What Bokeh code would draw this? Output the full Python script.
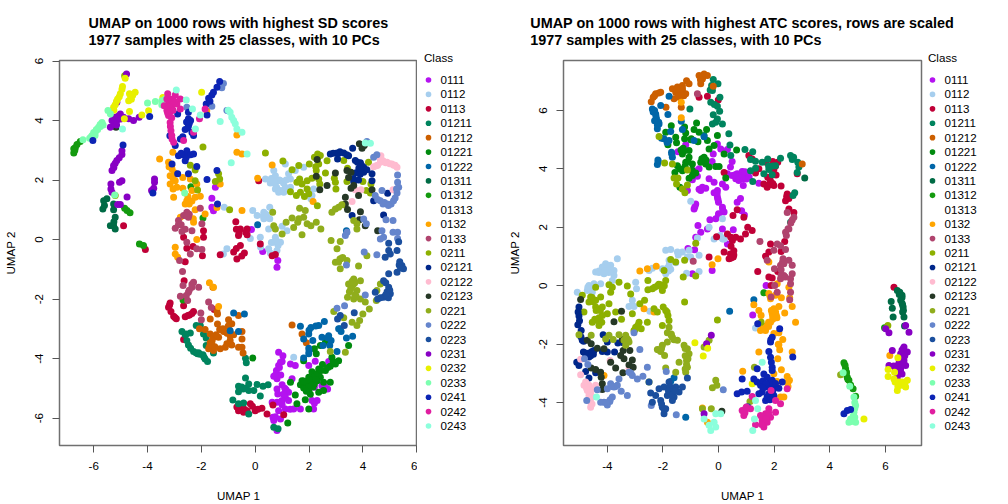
from bokeh.plotting import figure
from bokeh.layouts import row
from bokeh.embed import file_html
from bokeh.resources import INLINE
from bokeh.core.properties import value
from bokeh.models import Range1d, FixedTicker

classes = ["0111","0112","0113","01211","01212","01221","01222","01311","01312","01313","0132","0133",
           "0211","02121","02122","02123","0221","0222","0223","0231","0232","0233","0241","0242","0243"]
colors = ["#B412F0","#A6CEEE","#C00037","#00845E","#CC5F00","#008A0E","#0066A8","#006B45","#149A0F","#FFFFFF",
          "#FFA500","#B0446E","#8DB000","#00278A","#FFBBD0","#263826","#90AD1C","#6585CC","#1B4F9E","#8800C4",
          "#E8F000","#7CFFB0","#0C24B4","#E01EA0","#8CFFDC"]

# ---- UMAP on SD scores ----
sd_0111 = [(-1.55,.97),(-1.61,1.39),(-1.48,1.76),(-1.61,1.09),(-.14,.34),(.28,-.4),(.84,-.7),(.81,-.93),(.87,-3.79),(1.03,-3.9),(.94,-4.12),(.79,-4.4),(.87,-4.23),(.69,-4.59),(.81,-4.68),(1.31,-4.18),(1.49,-4.23),(1.99,-4.23),(2.23,-4.09),(2.73,-4.1),(1.37,-4.68),(1.0,-4.88),(.81,-5.02),(.84,-5.19),(1.24,-5.13),(1.12,-5.3),(1.0,-5.41),(.81,-5.47),(.63,-5.47),(1.24,-5.41),(1.12,-5.69),(.87,-5.75),(1.43,-5.69),(1.68,-5.69),(.66,-5.97),(.69,-6.08),(.94,-6.03),(.81,-6.42),(2.11,-5.41),(2.3,-5.41),(2.17,-5.69),(2.2,-4.96),(2.48,-4.91),(2.69,-5.02),(2.15,-4.63),(.95,-4.55),(1.1,-5.0),(1.0,-5.55),(.9,-4.3),(1.0,-4.1),(.75,-4.55),(1.15,-5.05),(1.05,-5.2),(.95,-5.45),(.75,-5.95),(1.3,-5.7),(2.2,-5.5),(2.6,-4.95)]
sd_0112 = [(.38,2.04),(.69,2.32),(.75,2.15),(.56,1.9),(.75,1.87),(.94,1.98),(.75,1.7),(.87,1.59),(1.06,1.59),(1.12,1.76),(1.31,2.04),(1.24,2.21),(1.49,2.32),(1.8,2.43),(1.12,2.54),(1.31,1.76),(2.11,1.48),(2.17,1.7),(2.07,1.37),(.54,1.09),(-.09,.98),(.07,.81),(.32,.92),(.32,.7),(.54,.7),(.5,.36),(1.0,.45),(1.18,.3),(.75,.08),(.94,-.09),(.69,-.09),(-.18,.04),(.19,.08),(-1.15,1.09),(.5,-.31),(.81,-.37),(.56,-.45),(1.43,-3.95),(-1.18,-.48),(-1.05,-.31),(.9,2.0),(1.05,1.9),(.85,-.2),(.2,-.25),(.6,2.05),(.7,1.95),(.8,1.75),(.95,1.65),(1.15,2.0),(.3,.8),(.45,.75),(.4,.85),(.8,-.05),(.6,-.1)]
sd_0113 = [(-4.08,-.33),(-2.54,-.29),(-2.31,-.23),(-1.96,-.54),(-2.6,-.74),(-2.64,-1.38),(-2.66,-2.22),(-3.16,-2.13),(-3.22,-2.27),(-3.13,-2.42),(-3.03,-2.58),(-2.93,-2.66),(-2.6,-2.59),(-2.44,-2.53),(-2.29,-2.42),(-2.66,-3.36),(-1.52,-2.35),(-1.3,-.51),(-.8,-.42),(-.68,-.65),(-.68,-5.63),(-.62,-5.75),(-4.89,.47),(-2.66,.08),(-1.92,.3),(-1.92,.08),(-.72,.6),(-.62,.14),(-.49,-5.58),(-.43,-5.8),(-.18,-5.52),(0,-5.75),(.25,-5.67),(.44,-5.86),(1.06,-5.89),(.66,-5.56),(-.55,.36),(-.3,.36),(-.3,.16),(.13,1.98),(.19,-.15),(.63,-.54),(.75,-.5),(-.55,-.2),(-.4,-.45),(-.7,-.3),(-.5,-.55),(-.1,-5.6),(.1,-5.7),(-.3,-5.75),(-.6,.2),(-.7,.35),(-.35,.25),(-3.18,-2.2),(-2.98,-2.62),(-2.5,-2.55),(-2.35,-2.48),(-.6,-5.65),(-.4,-5.7)]
sd_01211 = [(-2.19,-2.89),(-2.04,-2.89),(-2.72,-3.09),(-2.56,-3.17),(-2.41,-3.14),(-1.92,-3.17),(-1.82,-3.31),(-2.54,-3.39),(-2.48,-3.54),(-2.29,-3.76),(-2.14,-3.84),(-1.94,-3.87),(-1.86,-4.01),(-1.77,-4.1),(-1.82,-3.56),(-1.55,-3.81),(-.62,-4.93),(-.62,-5.11),(-.83,-5.39),(-.62,-5.52),(-.36,-3.99),(-.33,-4.14),(-.36,-4.65),(-.24,-4.85),(-.45,-5.02),(-.24,-5.07),(-.05,-5.07),(.07,-4.87),(.29,-4.93),(.48,-4.88),(.19,-5.26),(-.43,-5.49),(-.24,-5.86),(.69,-6.31),(.85,-6.36),(-.5,-4.95),(-.35,-5.0),(-2.1,-3.8),(-2.6,-3.2),(-2.2,-3.8),(-2.05,-3.85),(-1.9,-3.95),(-2.4,-3.65)]
sd_01212 = [(1.37,-2.87),(1.74,-3.17),(1.9,-3.47),(-.49,-3.09),(-.49,-3.34),(-.49,-3.62),(-.45,-3.81),(-.62,-2.55),(-1.42,-2.42),(-1.67,-2.67),(-1.4,-2.84),(-.99,-2.69),(-.87,-2.83),(-2.07,-3.0),(-1.86,-3.02),(-1.67,-3.17),(-1.32,-3.02),(-1.18,-3.09),(-.93,-3.23),(-1.36,-3.28),(-1.55,-3.28),(-.8,-3.2),(-.93,-3.39),(-.87,-3.54),(-1.11,-3.62),(-1.3,-3.67),(-1.55,-3.73),(-1.73,-3.67),(-1.67,-3.47),(-.62,-3.62),(-1.57,-1.6),(-1.05,-3.15),(-1.7,-3.6),(-1.6,-3.55),(-1.4,-2.5),(-1.6,-3.4),(-1.5,-3.6),(-1.2,-3.0),(-1.05,-3.5),(-.95,-3.05),(-1.0,-2.9),(-1.45,-3.2)]
sd_01221 = [(2.61,-3.45),(2.42,-3.56),(2.2,-3.67),(2.27,-3.84),(3.1,-4.07),(2.98,-4.18),(2.79,-4.26),(2.61,-4.4),(2.36,-4.35),(2.11,-4.44),(2.3,-4.51),(2.42,-4.63),(1.99,-4.63),(1.74,-4.74),(1.68,-4.88),(1.93,-4.85),(2.11,-4.79),(2.3,-4.74),(2.54,-4.79),(2.79,-4.79),(1.99,-5.07),(1.8,-4.99),(2.36,-5.13),(2.54,-5.07),(1.49,-5.22),(1.86,-5.38),(1.55,-5.52),(1.99,-5.69),(1.21,-6.16),(1.8,-4.07),(1.31,-4.79),(-.09,-3.98),(3.47,-3.56),(2.85,-3.95),(2.2,-4.6),(2.05,-5.2),(1.85,-4.8),(2.5,-4.2),(2.15,-4.95),(2.0,-4.7),(2.2,-4.85),(2.35,-4.55),(2.45,-4.4),(2.7,-4.3),(2.9,-4.1),(2.0,-4.95),(1.8,-4.75),(2.25,-4.7),(1.9,-5.1)]
sd_01222 = [(2.57,-2.75),(2.36,-2.89),(2.07,-2.95),(1.99,-3.17),(1.8,-3.34),(2.14,-3.39),(2.48,-3.28),(2.73,-3.23),(2.82,-3.39),(2.77,-3.56),(3.1,-3.0),(3.19,-3.09),(3.39,-3.31),(3.62,-3.25),(1.68,-2.91),(1.99,-3.65),(1.99,-3.84),(1.8,-3.98),(2.52,-3.56),(3.04,-3.76),(3.39,.3),(.09,.5),(-.8,-2.47),(-.93,-3.06),(-.62,-3.09),(-.4,-2.5),(2.25,-2.9),(2.0,-3.05),(3.15,-3.0),(2.7,-3.3),(2.0,-3.75)]
sd_01311 = [(-5.63,1.31),(-5.66,1.03),(-5.26,1.2),(-5.26,1.0),(-5.2,.75),(-5.26,.47),(-5.2,.36),(-5.38,.47),(-5.51,1.37),(-5.6,1.15),(-5.25,.6)]
sd_01312 = [(-6.62,3.2),(-6.74,3.05),(-6.74,2.91),(-4.76,.98),(-4.3,-.15),(-2.39,1.78),(-1.94,.73),(-2.68,-2.03),(-6.5,3.3),(-4.85,1.05),(-4.65,.9),(-4.15,-.2),(-6.68,3.1),(-6.7,3.0)]
sd_01313 = []
sd_0132 = [(-3.55,2.71),(-3.06,2.94),(-3.22,2.6),(-3.09,2.37),(-3.16,2.15),(-2.97,1.98),(-3.16,1.87),(-2.91,1.76),(-2.69,2.09),(-2.41,2.04),(-2.17,1.87),(-2.35,1.65),(-2.69,1.73),(-3.03,1.42),(-2.54,1.31),(-2.23,1.42),(-2.04,1.46),(-1.86,.86),(-1.3,1.87),(-2.23,1.0),(-2.29,.58),(-2.78,.75),(-2.17,0),(-.68,3.52),(-.68,2.94),(.63,2.51),(-.49,2.88),(.09,2.06),(2.15,1.28),(-.49,.98),(-1.8,4.33),(-1.42,1.08),(-2.97,-.26),(-2.97,-.48),(-2.88,-.59),(-1.7,-1.45),(-1.36,-2.25),(-1.55,-1.6),(-3.1,2.5),(-3.0,2.25),(-2.6,1.2),(-2.3,.7),(-3.2,2.45),(-3.05,2.05),(-3.05,1.7),(-2.5,1.45),(-2.45,1.2),(-2.35,1.3)]
sd_0133 = [(-2.04,1.05),(-1.98,.53),(-2.54,.92),(-2.66,.81),(-2.85,.64),(-2.48,.75),(-2.97,.38),(-2.72,.27),(-2.35,.3),(-2.54,-.09),(-2.17,-.31),(-1.98,-.33),(-2.41,-.48),(-2.81,-.7),(-2.7,-1.07),(-2.29,-1.43),(-2.35,-1.6),(-2.68,-1.54),(-2.1,-1.6),(-2.48,-1.77),(-2.56,-1.88),(-2.78,-1.9),(-2.51,-2.05),(-1.73,-2.1),(-1.63,-2.28),(-2.02,-2.47),(-2.0,-2.69),(-2.85,.5),(-2.45,.85),(-2.55,.8),(-2.75,.5),(-2.6,.35),(-2.35,-1.5),(-2.45,-1.7)]
sd_0211 = [(-1.36,2.21),(-1.32,2.04),(-1.48,1.95),(-2.23,2.34),(-2.41,2.5),(-1.94,3.11),(-2.14,1.67),(-2.23,1.98),(-.95,1.0),(-5.2,1.48),(.38,2.91),(1.03,2.64),(2.32,2.88),(2.42,2.83),(2.36,2.54),(2.27,2.32),(2.67,2.65),(2.2,2.77),(2.01,2.54),(1.62,2.49),(1.37,2.35),(2.61,2.24),(2.36,2.04),(2.11,2.06),(1.93,1.98),(1.65,2.04),(1.74,1.87),(1.55,1.93),(2.4,1.87),(2.94,2.06),(2.98,1.93),(3.0,1.7),(3.43,2.4),(3.41,1.95),(4.0,1.95),(4.3,1.87),(4.21,2.6),(4.13,1.65),(4.28,1.57),(1.93,1.7),(1.99,1.54),(1.68,1.59),(1.53,1.48),(1.83,1.45),(1.31,1.61),(3.29,2.66),(2.31,1.14),(3.29,1.17),(-4.85,5.51),(2.3,2.7),(2.25,2.45)]
sd_02121 = [(2.79,2.88),(3.04,2.91),(3.29,2.91),(3.47,2.82),(3.62,3.07),(3.72,2.66),(3.91,2.58),(4.03,2.43),(4.03,2.26),(3.84,2.0),(3.66,1.95),(4.34,2.21),(4.34,1.98),(3.06,2.71),(4.4,1.31),(4.92,1.56),(4.77,.83),(3.6,.81),(2.9,2.9),(3.15,2.95),(3.85,2.4),(3.75,2.25),(3.9,2.2),(4.15,2.35),(3.1,2.9),(3.4,2.85),(3.8,2.6),(3.95,2.5),(3.95,2.3),(3.9,2.4),(3.65,2.05)]
sd_02122 = [(4.67,2.82),(4.65,2.6),(4.4,2.45),(4.9,2.6),(5.08,2.54),(5.27,2.43),(3.93,1.68),(3.72,1.68),(5.12,1.68),(3.6,1.28),(4.55,2.5),(4.75,2.65),(5.2,2.5),(4.65,2.7),(4.65,2.75),(4.5,2.48),(4.85,2.58),(5.0,2.55),(5.15,2.5)]
sd_02123 = [(3.87,3.22),(4.05,3.16),(3.97,3.07),(2.3,2.69),(2.27,2.13),(2.67,1.82),(2.98,2.24),(2.4,1.68),(3.41,2.32),(3.56,2.26),(3.47,2.09),(3.66,1.82),(3.56,1.73),(4.34,1.68),(3.84,1.48),(3.35,1.42),(3.35,1.2),(3.43,1.01),(3.91,.94),(3.87,.67),(4.09,.47),(4.55,.3),(-5.17,3.78)]
sd_0221 = [(.65,.92),(1.65,1.05),(1.86,.98),(1.62,.7),(1.37,.73),(1.15,.58),(.69,.47),(.75,.36),(1.43,.41),(1.58,.58),(1.8,.75),(1.93,.53),(2.07,.47),(2.27,.58),(2.44,.36),(1.74,.16),(1,.19),(2.82,-.03),(3.16,-.06),(2.85,.92),(2.98,1.03),(3.1,1.09),(3.22,1.17),(3.66,.64),(3.78,.53),(3.78,.36),(3.04,-.31),(3.16,-.65),(2.98,-.76),(3.41,-.7),(3.16,-.98),(3.84,-.89),(4.15,-.54),(3.66,-1.32),(3.6,-1.54),(3.47,-1.49),(3.91,-1.38),(3.78,-1.71),(3.66,-2.0),(3.43,-1.94),(3.91,-2.0),(4.09,-2.1),(4.24,-2.33),(4.5,-2.05),(4.52,-1.71),(4.65,-1.49),(4.0,-2.5),(3.88,-2.72),(3.78,-2.89),(3.6,-2.78),(3.29,-2.63),(2.92,-2.42),(2.79,-3.76),(3.35,-3.79),(3.7,-1.45),(3.5,-1.75),(3.75,-1.9),(3.1,-.75),(3.6,-1.4),(3.65,-1.5),(3.55,-1.65),(3.7,-1.85),(3.15,-.65),(3.25,-.6)]
sd_0222 = [(4.05,-.42),(3.39,-.85),(4.52,-.51),(4.09,-1.86),(3.32,-2.22),(3.04,-2.31),(4.03,.69),(4.13,.53),(3.41,.25),(3.35,.14),(4.71,.3),(4.77,.08),(4.65,.02),(5.12,.64),(4.86,.67),(5.12,.25),(5.29,.25),(5.29,.04),(4.4,2.77),(4.52,2.85),(5.29,2.17),(5.29,1.93),(5.33,1.76),(5.27,1.57),(5.14,1.31),(4.9,1.2),(4.65,1.31),(4.46,1.48),(4.71,1.65),(4.15,3.3),(-1.18,5.25),(-1.24,5.1),(-1.61,4.48),(-2.54,4.45),(-1.05,4.34),(4.8,1.25),(5.05,1.2),(4.55,1.35),(4.75,1.2),(4.95,1.15),(5.2,1.4),(5.25,1.7)]
sd_0223 = [(4.96,-.37),(5.02,-.48),(5.27,-.37),(4.83,-.59),(5.37,-.74),(5.45,-.87),(5.51,-.98),(5.27,-1.1),(4.96,-1.15),(4.77,-1.38),(4.96,-1.6),(5.02,-1.82),(4.77,-1.94),(4.55,-2.0),(4.46,-1.77),(3.16,-2.55),(3.06,-2.67),(3.68,-2.46),(3.31,-2.89),(4.96,-.12),(5.33,-.07),(4.9,-1.75),(4.95,-1.95),(5.0,-1.7),(4.85,-1.85),(4.65,-1.95),(5.35,-.85),(5.4,-.95),(4.85,-1.45)]
sd_0231 = [(-4.78,5.57),(-5.2,4.11),(-5.01,4.22),(-5.32,4.0),(-5.14,4.0),(-4.89,4.11),(-4.7,4.06),(-4.52,4.0),(-4.31,4.11),(-5.38,3.78),(-5.14,4.62),(-4.95,2.99),(-4.95,2.86),(-5.14,2.66),(-5.26,2.49),(-5.32,2.32),(-5.2,2.57),(-4.95,1.98),(-5.04,1.93),(-3.74,2.04),(-3.74,1.93),(-3.77,1.73),(-3.85,1.65),(-5.36,1.87),(-5.36,1.7),(-5.32,1.59),(-5.11,1.18),(-5.01,1.18),(-4.76,1.43),(-5.25,2.42),(-5.05,2.75),(-5.1,4.15),(-5.25,3.9),(-5.0,4.05),(-5.15,3.85)]
sd_0232 = [(-4.93,5.15),(-5.01,4.9),(-5.11,4.73),(-5.2,4.53),(-5.26,4.45),(-4.83,5.42),(-4.67,4.9),(-4.46,4.95),(-4.62,4.78),(-4.7,4.67),(-4.67,4.31),(-4.86,4.06),(-4.21,4.19),(-3.96,4.33),(-3.43,4.78),(-1.99,4.95),(-5.05,4.8),(-4.55,4.85),(-4.95,5.05),(-5.15,4.65),(-5.25,4.35),(-4.6,4.72)]
sd_0233 = [(-5.69,3.94),(-5.82,3.78),(-5.94,3.61),(-6.06,3.5),(-6.15,3.41),(-5.76,3.87),(-6.4,3.36),(-4.0,4.59),(-3.71,4.64),(-3.47,4.67),(-3.34,4.73),(-3.47,4.53),(-5.38,4.22),(-5.47,4.34),(-2.62,1.57),(-5.22,1.5),(-5.9,3.7),(-6.0,3.6),(-5.75,3.8),(-5.85,3.7),(-5.95,3.5),(-6.1,3.45),(-5.65,3.85)]
sd_0241 = [(-1.32,5.31),(-1.42,5.12),(-1.61,4.86),(-1.73,4.75),(-1.82,4.56),(-1.79,4.19),(-2.88,4.22),(-2.48,4.28),(-2.48,4.06),(-2.48,3.83),(-2.6,3.7),(-2.29,3.5),(-2.69,3.46),(-2.78,3.38),(-2.97,3.16),(-2.54,2.99),(-2.29,2.88),(-2.85,2.82),(-2.56,2.77),(-3.09,2.54),(-2.17,2.46),(-2.48,2.21),(-2.88,2.21),(-1.79,2.02),(-1.42,2.32),(-3.92,4.14),(-4.91,3.18),(-6.03,3.33),(-3.8,1.57),(-1.4,1.2),(-3.17,3.49),(-2.4,4.0),(-2.55,3.95),(-2.7,2.85),(-2.45,3.9),(-2.5,3.75),(-2.35,3.6),(-1.55,4.95),(-1.68,4.65),(-2.75,2.9),(-2.6,2.65),(-2.4,2.85)]
sd_0242 = [(-3.25,4.9),(-2.97,4.86),(-2.78,4.73),(-3.22,4.56),(-3.28,4.34),(-3.09,4.5),(-2.91,4.56),(-3.22,4.17),(-3.16,3.94),(-3.13,3.66),(-3.09,3.38),(-3.03,3.27),(-2.66,3.33),(-2.29,3.61),(-2.07,4.06),(-1.86,4.39),(-3.28,4.73),(-3.12,4.72),(-2.78,4.39),(-3.15,4.3),(-3.1,4.1),(-3.38,4.5),(-3.2,4.45),(-3.05,4.35),(-3.25,4.25),(-3.15,3.8),(-3.1,3.5),(-3.0,4.65)]
sd_0243 = [(-2.93,5.03),(-2.56,4.69),(-2.33,4.39),(-2.04,4.19),(-2.22,3.72),(-.93,4.28),(-.87,4.11),(-.74,3.89),(-.68,3.72),(-1.3,3.97),(-.89,2.58),(-4.93,3.72),(-.49,3.61),(-.3,2.88),(4.09,3.25),(4.28,3.24),(-1.0,4.35),(-.8,4.0)]

# ---- UMAP on ATC scores ----
atc_0111 = [(-1.18,4.83),(-1.46,4.59),(-.19,4.51),(.08,4.68),(.32,4.66),(-.04,4.85),(-.23,4.25),(.49,4.25),(.43,4.06),(-.7,4.0),(-.88,3.94),(-.76,3.75),(-.94,3.63),(-1.12,3.26),(-.34,3.66),(-.16,3.54),(.32,3.83),(.49,3.77),(.62,3.66),(.14,3.48),(.26,3.37),(-.58,3.37),(-.46,3.34),(-.64,3.26),(-.04,3.26),(-.16,3.18),(-.04,3.03),(0,2.86),(-.82,2.8),(-.88,2.63),(.14,2.69),(.2,2.52),(0,2.46),(-.1,2.29),(-.31,2.26),(-.74,2.06),(.14,1.94),(-.4,1.94),(-.64,1.83),(-.82,1.66),(.67,3.83),(.73,3.6),(.67,2.86),(.53,1.92),(.32,1.43),(.85,3.91),(1.03,3.77),(.91,3.66),(.89,3.43),(1.45,3.51),(.79,2.99),(.83,2.57),(.93,2.42),(-.86,1.23),(-1.1,1.27),(-.94,.41),(-.23,.52),(1.71,.01),(1.23,-1.0),(.95,3.8),(.8,3.75),(1.0,3.65),(.95,3.9),(1.1,3.72),(.7,3.75),(.6,3.8),(-.05,3.15),(-.02,2.95),(.15,2.6),(-.7,3.3),(-.85,2.7),(.0,2.4)]
atc_0112 = [(-3.64,.92),(-4.06,.75),(-3.88,.7),(-4.18,.64),(-4.0,.52),(-4.42,.47),(-3.76,.52),(-4.12,.41),(-3.76,.35),(-3.82,.18),(-4.24,.07),(-4.48,.07),(-4.66,.01),(-4.72,-.16),(-5.08,-.22),(-4.54,-.22),(-2.98,.12),(-2.95,-.1),(-3.1,-.5),(-3.1,-.67),(-3.22,-.71),(-3.04,-.71),(-2.47,-.87),(-1.9,1.21),(-1.72,1.24),(-1.48,1.15),(-1.3,1.15),(-1.06,1.21),(-1.12,.98),(-1.0,.98),(-.7,1.04),(-1.78,.87),(-1.54,.79),(-1.78,.7),(-2.5,.52),(-2.02,.58),(-1.9,.41),(-1.72,.56),(-1.15,.43),(-.7,.49),(-2.38,.6),(-1.0,2.89),(.05,1.72),(.2,1.6),(-.16,1.6),(-.76,1.63),(-.34,2.0),(.14,2.29),(1.33,-1.45),(-4.62,-.1),(-4.3,.5),(-3.9,.55),(-1.9,.55),(-4.1,.65),(-4.0,.65),(-3.95,.45),(-4.1,.5),(-4.3,.45),(-4.6,-.05),(-4.7,-.05),(-1.45,1.05),(-1.85,.6),(-1.8,.5),(.15,1.6),(.1,1.65)]
atc_0113 = [(-.7,6.45),(-.4,6.49),(-.01,6.36),(.2,3.88),(.67,2.6),(.52,2.4),(.32,1.77),(.44,1.66),(.62,1.66),(-.07,1.68),(1.09,4.46),(1.21,4.34),(1.71,4.23),(1.95,4.25),(2.13,4.23),(1.45,4.0),(1.33,3.86),(1.99,3.98),(2.07,3.79),(1.77,3.71),(1.87,3.57),(1.63,3.48),(1.75,3.37),(1.99,3.43),(2.25,3.41),(2.47,3.14),(2.53,2.99),(2.41,2.91),(2.83,3.83),(2.53,2.63),(2.71,2.51),(.91,2.34),(1.05,2.0),(1.21,1.89),(.97,1.77),(.79,1.6),(2.38,1.51),(1.87,1.43),(.2,1.15),(.43,1.09),(.38,.92),(.53,.98),(-.34,.98),(1.69,1.01),(1.81,1.15),(2.25,1.17),(1.41,.49),(1.81,.3),(1.93,.26),(2.13,.49),(1.89,.01),(6.31,-.05),(.55,1.2),(.45,1.35),(.5,1.55),(.55,1.05),(.45,.95),(1.8,3.45),(1.85,3.65),(2.05,4.1),(1.95,3.5),(2.45,3.05),(2.5,3.1)]
atc_01211 = [(-.19,7.06),(-.02,6.91),(-.22,6.68),(.05,6.45),(-.28,6.28),(-.04,6.14),(-1.03,6.05),(.04,5.97),(-.19,5.85),(-.04,5.71),(-.22,5.54),(.14,5.54),(.37,5.2),(-.52,5.14),(.41,4.82),(.44,4.46),(.95,4.66),(1.23,4.59),(1.15,4.32),(1.33,4.26),(1.57,4.23),(1.77,4.34),(2.23,4.36),(2.05,4.11),(1.81,3.98),(1.63,3.83),(1.33,4.02),(1.15,3.94),(1.23,3.57),(1.93,3.8),(2.59,4.46),(2.65,4.32),(2.85,4.23),(2.89,4.06),(2.83,3.88),(2.74,3.18),(2.68,3.09),(2.59,2.17),(-.3,6.7),(-.25,6.85),(-.15,6.2),(-.1,5.6),(1.8,4.1),(1.95,4.1),(2.7,4.4)]
atc_01212 = [(-.52,7.25),(-.7,7.2),(-.4,7.2),(-.58,7.08),(-.64,6.91),(-.19,6.83),(-1.15,7.02),(-1.06,6.91),(-1.3,6.85),(-1.48,6.8),(-1.66,6.74),(-1.54,6.62),(-1.3,6.68),(-1.18,6.57),(-1.42,6.45),(-1.6,6.4),(-2.08,6.62),(-2.26,6.57),(-2.35,6.45),(-2.42,6.3),(-1.89,6.11),(-1.34,6.11),(3.01,4.17),(-1.4,6.6),(-1.25,6.5),(-1.3,6.75),(-1.5,6.7),(-1.35,6.55),(-.55,7.15),(-.65,7.05),(-1.45,6.5),(-2.15,6.6),(-2.3,6.5)]
atc_01221 = [(-.79,5.57),(-1.7,5.48),(-1.22,5.43),(-.88,5.35),(-.7,5.25),(-.43,5.35),(-1.18,5.23),(-1.9,5.25),(-1.54,5.08),(-1.22,5.03),(-.98,5.03),(-.4,4.97),(-.74,4.93),(-.04,5.14),(-1.82,4.83),(-1.51,4.89),(-1.27,4.71),(-1.06,4.63),(-1.3,4.51),(-.34,4.68),(-.16,4.8),(.2,4.51),(.65,4.65),(-1.06,4.4),(-.52,4.4),(-1.48,4.11),(-1.18,4.23),(-.94,4.17),(-.64,4.23),(-.46,4.17),(-.34,4.06),(-.1,4.08),(.02,4.08),(-1.57,3.88),(-1.3,3.94),(-.82,3.86),(-.94,3.77),(-1.06,3.68),(.26,3.69),(-1.39,3.37),(-1.35,4.65),(-1.2,4.1),(-.5,4.3),(-1.25,4.6),(-1.1,4.25),(-.6,4.35),(-1.4,4.0),(-.45,4.3),(-.95,3.95),(-1.0,5.0)]
atc_01222 = [(-1.78,6.49),(-2.08,6.17),(-2.38,6.05),(-2.26,5.88),(-2.23,5.71),(-2.14,5.54),(-2.2,5.37),(-1.82,5.86),(-1.34,5.63),(-1.72,5.28),(-1.3,5.35),(-1.96,5.03),(-1.78,4.97),(-1.69,4.57),(-1.66,4.4),(-2.17,4.25),(-.52,5.1),(-.88,4.97),(.4,-.87),(-1.18,-4.5),(-1.6,-3.15),(1.27,-.48),(-1.72,-3.28),(-2.3,6.0),(-2.15,5.6),(-2.2,4.15),(-2.35,5.95),(-2.25,5.8),(-2.3,5.65),(-2.2,5.5),(-2.05,5.05),(-1.85,4.9),(-1.68,4.5),(-2.18,4.3)]
atc_01311 = [(3.1,3.69),(6.52,-.22),(6.43,-.16),(6.6,-.33),(6.55,-.5),(6.64,-.73),(6.67,-1.07),(6.21,-.54),(6.25,-.77),(6.28,-1.07),(6.69,-1.38),(6.6,-.6),(6.62,-.9),(6.6,-.4),(6.62,-.65),(6.65,-.85),(6.5,-.3)]
atc_01312 = [(4.51,-2.64),(4.57,-2.84),(4.63,-3.13),(4.69,-3.24),(4.84,-3.53),(4.93,-3.78),(1.63,-.24),(5.97,-1.44),(4.6,-3.0),(4.55,-2.72),(4.65,-3.2),(4.75,-3.4),(4.6,-2.95)]
atc_01313 = []
atc_0132 = [(-1.34,6.28),(-1.34,5.75),(-2.83,.5),(-2.24,.67),(-2.56,.58),(-2.68,-.79),(-2.32,-.9),(-.02,.92),(-.23,.72),(-.58,-4.19),(-.4,-4.67),(-4.12,-3.07),(1.81,.81),(2.11,.07),(2.53,-.05),(1.81,-.27),(1.87,-.45),(2.05,-.33),(2.26,-.41),(2.56,-.41),(1.27,-.65),(2.65,-.71),(2.17,-.71),(1.45,-.85),(1.53,-1.02),(1.99,-.79),(1.93,-.96),(2.08,-1.02),(2.38,-.93),(1.87,-1.25),(1.75,-1.36),(1.51,-1.53),(1.69,-1.53),(1.99,-1.64),(2.17,-1.61),(2.77,-1.25),(2.31,-1.84),(2.17,-2.02),(2.2,-2.19),(1.45,-2.27),(2.65,-2.27),(2.13,-2.5),(2.26,-2.88),(1.99,-3.01),(2.47,-3.11),(2.55,-3.24),(2.5,-3.45),(2.11,-3.28),(2.23,-3.81),(2.35,-3.81),(.87,-2.93),(6.16,-2.39),(1.95,-1.15),(1.8,-1.4),(1.9,-.85),(1.95,-1.05),(1.8,-1.25),(1.65,-1.4),(1.6,-1.45),(2.05,-.9),(2.1,-1.1),(2.15,-2.0),(1.85,-.35),(2.5,-3.3)]
atc_0133 = [(2.47,2.51),(2.71,2.34),(2.53,1.94),(2.41,1.83),(2.44,1.72),(1.49,1.51),(2.11,1.43),(2.23,1.37),(-.76,6.57),(-.91,.84),(2.41,1.24),(1.99,1.21),(2.32,.92),(2.53,.87),(2.23,.7),(2.65,.7),(2.01,.58),(2.65,.41),(2.35,.35),(2.23,.24),(2.59,.24),(2.59,.07),(2.02,.01),(2.11,-.22),(2.59,-.22),(2.56,-.48),(1.75,.87),(1.89,-.39),(2.6,2.15),(2.3,.8),(2.35,.75),(2.25,.55),(2.25,.35),(2.4,.3),(2.5,1.95),(2.65,2.25)]
atc_0211 = [(-2.14,5.11),(-1.94,4.2),(-1.66,4.17),(-1.12,3.96),(-1.6,3.69),(-1.46,3.69),(-1.51,3.48),(-1.12,3.45),(-1.3,3.31),(-1.21,3.18),(-.82,1.45),(-1.22,.87),(-1.72,.9),(-1.54,.81),(-1.27,.3),(-.82,.33),(-1.96,.52),(-2.54,.18),(-1.9,.18),(-2.08,.03),(-2.2,-.01),(-2.38,-.1),(-2.54,-.14),(-2.02,-.16),(-3.28,-.01),(-3.58,.12),(-3.94,.03),(-3.82,-.05),(-3.88,-.22),(-4.42,-.05),(-3.16,-.28),(-4.9,-.33),(-4.6,-.39),(-4.66,-.56),(-4.42,-.5),(-4.24,-.39),(-4.42,-.73),(-4.18,-.73),(-3.94,-.62),(-5.02,-.85),(-4.84,-.9),(-3.7,-.9),(-3.49,-1.15),(-4.0,-.96),(-4.18,-1.02),(-4.36,-1.19),(-4.54,-1.25),(-4.3,-1.36),(-2.86,-1.25),(-2.98,-1.42),(-3.04,-1.53),(-2.78,-1.47),(-2.56,-1.25),(-3.1,-.96),(-2.66,-.5),(-2.83,-.62),(-1.22,-.56),(-.04,-1.17),(-1.99,-.73),(-1.9,-.85),(-1.82,-1.02),(-1.78,-1.19),(-2.02,-1.36),(-2.32,-.79),(-2.2,-.9),(1.53,-1.25),(6.09,-1.36),(-4.55,-.4),(-4.5,-.55),(-4.4,-.85),(-4.25,-.85),(-4.3,-1.1),(-4.2,-1.25),(-4.45,-1.15),(-2.15,.05),(-2.3,-.05),(-1.95,.0),(-1.85,-.9),(-2.9,-1.35),(-3.0,-1.5)]
atc_02121 = [(-5.02,-.73),(-5.02,-1.04),(-5.06,-1.34),(-4.94,-1.53),(-4.9,-1.87),(-4.15,-1.68),(-4.0,-1.93),(-3.62,-1.96),(-3.43,-1.95),(-4.86,-2.27),(-4.54,-2.33),(-4.48,-2.22),(-4.66,-2.44),(-4.18,-2.25),(-4.0,-2.27),(-3.74,-2.27),(-5.1,-2.62),(-5.02,-2.73),(-4.78,-2.94),(-4.66,-3.16),(-4.42,-2.98),(-4.95,-1.75),(-4.6,-2.4),(-4.55,-2.25),(-4.5,-2.35),(-4.65,-2.3),(-5.05,-.9),(-5.0,-1.2),(-4.85,-1.9),(-4.8,-2.3)]
atc_02122 = [(-4.96,-2.52),(-4.96,-3.05),(-4.78,-3.3),(-4.66,-3.41),(-4.84,-3.41),(-4.72,-3.59),(-4.54,-3.53),(-4.6,-3.99),(-4.6,-4.16),(-4.42,-3.41),(-3.9,-2.56),(-3.22,-2.84),(-4.66,-3.76),(-4.55,-3.8),(-4.7,-3.5),(-4.7,-3.4),(-4.75,-3.5),(-4.65,-3.55),(-4.6,-3.7),(-4.62,-3.9),(-4.55,-4.05)]
atc_02123 = [(-4.96,-.47),(-3.49,-.87),(-3.76,-1.23),(-4.72,-1.87),(-4.58,-1.99),(-4.36,-2.14),(-4.12,-2.16),(-3.46,-1.84),(-3.43,-2.22),(-3.19,-2.22),(-3.52,-2.39),(-3.4,-2.5),(-3.1,-2.54),(-3.88,-2.62),(-3.22,-2.71),(-3.7,-2.82),(-3.07,-2.79),(-3.44,-2.98),(-4.58,-2.82),(-4.42,-2.87),(-4.24,-2.96),(-4.22,-3.13),(-4.18,-3.36),(-4.18,-3.55),(.12,-4.3)]
atc_0221 = [(-5.02,-1.68),(-4.58,-1.7),(-3.94,-1.7),(-4.06,-1.82),(-3.58,-1.68),(-3.79,-1.84),(-3.34,-1.7),(-3.4,-1.87),(-3.22,-1.93),(-3.34,-2.04),(-1.78,-1.42),(-1.84,-1.61),(-1.66,-1.76),(-1.48,-1.87),(-1.84,-1.93),(-2.02,-2.04),(-2.2,-2.18),(-2.08,-2.25),(-1.94,-2.39),(-1.24,-2.04),(-1.12,-2.16),(-1.06,-2.33),(-1.15,-2.56),(-1.12,-2.79),(-1.42,-2.62),(-1.54,-2.96),(-1.18,-2.96),(-1.9,-2.82),(-.52,-2.1),(-.34,-1.87),(-.1,-3.24),(-.22,-3.49),(-.06,-3.41),(-2.5,-3.3),(-.58,-4.21),(-.26,-4.21),(1.13,-3.96),(1.29,-2.79),(4.39,-3.05),(-1.7,-1.65),(-1.2,-2.4),(-1.7,-1.7),(-1.6,-1.85),(-1.2,-2.15),(-1.1,-2.5),(-1.15,-2.7),(-1.2,-2.85),(-3.3,-1.8),(-3.25,-1.85),(-2.15,-2.2),(-2.05,-2.15)]
atc_0222 = [(-3.04,-1.61),(-2.83,-2.18),(-2.56,-2.79),(-1.88,-2.94),(-3.22,-2.96),(-3.1,-3.07),(-2.92,-3.19),(-2.72,-3.1),(-3.58,-3.19),(-3.88,-3.36),(-3.64,-3.41),(-4.0,-3.53),(-3.76,-3.47),(-3.5,-3.61),(-3.28,-3.76),(-4.36,-3.56),(-3.82,-3.81),(-3.91,-3.96),(-4.12,-3.99),(-4.24,-3.99),(-4.0,-4.08),(-4.74,-3.93),(-1.52,-4.42),(.17,-3.56),(-4.82,-2.5),(-4.7,-2.7),(-2.42,-4.1),(-3.7,-3.45),(-3.85,-3.45),(-3.9,-3.9),(-4.05,-4.0),(-3.15,-3.0)]
atc_0223 = [(-2.5,-3.3),(-1.78,-3.3),(-1.96,-3.47),(-1.54,-3.47),(-1.72,-3.64),(-1.3,-3.47),(-1.6,-3.81),(-1.84,-3.76),(-2.14,-3.53),(-2.44,-3.67),(-2.26,-3.76),(-2.08,-3.93),(-2.38,-3.99),(-2.02,-4.16),(-1.9,-4.21),(-1.96,-4.38),(-1.12,-3.16),(-1.66,-3.93),(-1.42,-3.64),(1.05,-4.14),(-1.75,-3.45),(-1.75,-3.5),(-1.65,-3.55),(-1.8,-3.6),(-1.6,-3.6),(-1.7,-3.75),(-2.05,-4.05),(-1.95,-4.25),(-1.55,-3.6)]
atc_0231 = [(6.73,-1.36),(6.85,-1.59),(6.13,-1.61),(6.01,-1.47),(6.67,-2.1),(6.25,-2.22),(6.79,-2.27),(6.55,-2.33),(6.67,-2.56),(6.13,-2.73),(6.43,-2.73),(6.73,-2.73),(6.55,-2.84),(6.6,-3.02),(6.43,-3.13),(-.26,-1.7),(-.43,-1.99),(-.52,-4.38),(6.3,-2.75),(6.6,-2.5),(6.6,-2.2),(6.7,-2.4),(6.5,-2.6),(6.6,-2.7),(6.35,-2.8),(6.55,-2.95),(6.65,-2.15)]
atc_0232 = [(6.45,-2.47),(6.1,-2.87),(6.33,-2.96),(6.1,-3.11),(6.31,-3.19),(6.49,-3.3),(6.79,-3.24),(6.6,-3.41),(6.43,-3.59),(6.73,-3.47),(5.23,-4.56),(1.21,-3.36),(-.85,-1.95),(-.39,-2.14),(-.55,-2.41),(6.5,-3.4),(6.6,-3.3),(6.35,-3.3),(6.45,-3.45),(6.7,-3.35)]
atc_0233 = [(4.48,-2.98),(4.72,-3.44),(4.87,-3.81),(4.93,-4.1),(4.87,-4.33),(4.75,-4.56),(4.93,-4.67),(4.69,-4.67),(4.9,-4.5),(4.82,-4.6),(4.9,-4.0),(4.9,-4.2),(4.85,-4.45),(4.78,-4.65)]
atc_0241 = [(1.81,-2.25),(1.93,-1.76),(1.87,-1.93),(2.2,-1.47),(1.41,-1.3),(1.9,-2.62),(1.93,-2.79),(2.67,-2.44),(1.63,-3.02),(1.27,-3.19),(1.39,-3.3),(1.51,-3.41),(1.75,-3.13),(1.93,-3.24),(2.29,-3.3),(1.99,-3.47),(1.75,-3.47),(1.57,-3.64),(2.17,-3.51),(1.81,-3.7),(1.99,-3.76),(1.69,-3.93),(.85,-3.19),(.83,-3.64),(1.03,-3.61),(1.39,-2.84),(1.45,-3.7),(4.63,-4.27),(4.51,-4.38),(4.75,-4.24),(.67,-3.7),(1.6,-3.25),(1.85,-3.4),(1.85,-3.3),(1.7,-3.35),(1.6,-3.5),(1.95,-3.6),(1.75,-3.8),(1.85,-3.9),(1.87,-2.45),(1.93,-2.9),(1.88,-1.85),(2.05,-3.35)]
atc_0242 = [(1.89,-3.59),(1.21,-3.79),(2.05,-3.93),(2.23,-4.04),(.97,-4.21),(.85,-4.27),(1.15,-4.21),(.91,-4.44),(1.81,-4.21),(2.05,-4.33),(1.51,-4.44),(1.69,-4.38),(1.87,-4.5),(1.57,-4.61),(1.75,-4.67),(1.63,-4.84),(1.33,-4.76),(2.47,-3.53),(1.65,-4.55),(1.6,-4.5),(1.7,-4.5),(1.8,-4.35),(1.55,-4.75),(1.7,-4.55),(.95,-4.35),(.9,-4.3),(1.0,-4.15)]
atc_0243 = [(-.1,-4.38),(.08,-4.38),(-.52,-4.56),(-.34,-4.78),(-.16,-4.67),(-.1,-4.84),(-.28,-4.96),(-4.39,-3.81),(1.57,-2.62),(1.33,-3.93),(1.41,-4.21),(1.29,-4.56),(1.23,-4.96)]

sd_points = [sd_0111,sd_0112,sd_0113,sd_01211,sd_01212,sd_01221,sd_01222,sd_01311,sd_01312,sd_01313,sd_0132,sd_0133,sd_0211,sd_02121,sd_02122,sd_02123,sd_0221,sd_0222,sd_0223,sd_0231,sd_0232,sd_0233,sd_0241,sd_0242,sd_0243]
atc_points = [atc_0111,atc_0112,atc_0113,atc_01211,atc_01212,atc_01221,atc_01222,atc_01311,atc_01312,atc_01313,atc_0132,atc_0133,atc_0211,atc_02121,atc_02122,atc_02123,atc_0221,atc_0222,atc_0223,atc_0231,atc_0232,atc_0233,atc_0241,atc_0242,atc_0243]

FONT = "Liberation Sans"

def panel(points, title, xr, yr, xticks, yticks, width, left, right):
    p = figure(width=width, height=504, output_backend="svg", toolbar_location=None,
               x_range=Range1d(*xr), y_range=Range1d(*yr),
               min_border_left=left, min_border_right=right, min_border_top=60, min_border_bottom=59,
               x_axis_label="UMAP 1", y_axis_label="UMAP 2", title=title)
    p.title.align = "center"
    p.title.text_font = FONT
    p.title.text_font_size = "14.4px"
    p.title.text_font_style = "bold"
    p.title.text_color = "#000000"
    p.title.text_line_height = 1.12
    p.title.standoff = 24
    p.grid.visible = False
    p.outline_line_color = "#707070"
    p.outline_line_width = 1.5
    for ax, ticks in ((p.xaxis[0], xticks), (p.yaxis[0], yticks)):
        ax.ticker = FixedTicker(ticks=ticks)
        ax.major_label_overrides = {t: str(t) for t in ticks}
        ax.minor_tick_line_color = None
        ax.major_tick_in = 0
        ax.major_tick_out = 7
        ax.major_tick_line_color = "#555555"
        ax.axis_line_color = None
        ax.major_label_text_font = FONT
        ax.major_label_text_font_size = "11.6px"
        ax.major_label_text_color = "#000000"
        ax.axis_label_text_font = FONT
        ax.axis_label_text_font_size = "11.6px"
        ax.axis_label_text_font_style = "normal"
        ax.axis_label_text_color = "#000000"
    p.xaxis[0].major_label_standoff = 9
    p.xaxis[0].axis_label_standoff = 16
    p.yaxis[0].major_label_standoff = 9
    p.yaxis[0].axis_label_standoff = 16
    p.yaxis[0].major_label_orientation = "vertical"
    for pts, col in zip(points, colors):
        if pts:
            p.scatter([a for a, _ in pts], [b for _, b in pts], size=7, marker="circle",
                      fill_color=col, line_color=None)
    return p

def key(width, margin):
    k = figure(width=width, height=504, output_backend="svg", toolbar_location=None,
               x_range=Range1d(0, width), y_range=Range1d(25.35, -1.352),
               min_border_left=0, min_border_right=0, min_border_top=0, min_border_bottom=0,
               outline_line_color=None, margin=margin, title="Class",
               background_fill_color=None, border_fill_color=None)
    k.title.align = "left"
    k.title.offset = 6.5
    k.title.standoff = -6
    k.title.text_font = FONT
    k.title.text_font_size = "11.6px"
    k.title.text_font_style = "normal"
    k.title.text_color = "#000000"
    k.axis.visible = False
    k.grid.visible = False
    idx = list(range(len(classes)))
    k.scatter([11] * len(idx), idx, size=5.6, marker="circle", fill_color=colors, line_color=None)
    k.text([23] * len(idx), idx, text=classes, text_font=value(FONT), text_font_size="11.6px",
           text_baseline="middle", text_color="#000000")
    return k

p1 = panel(sd_points, "UMAP on 1000 rows with highest SD scores\n1977 samples with 25 classes, with 10 PCs",
           (-7.27, 6.03), (-6.92, 6.02), [-6,-4,-2,0,2,4,6], [-6,-4,-2,0,2,4,6], 417, 59, 0)
p2 = panel(atc_points, "UMAP on 1000 rows with highest ATC scores, rows are scaled\n1977 samples with 25 classes, with 10 PCs",
           (-5.576, 7.30), (-5.47, 7.71), [-4,-2,0,2,4,6], [-4,-2,0,2,4,6], 504, 59, 87)
layout = row(p1, key(87, 0), p2, key(87, (0, 0, 0, -87)), spacing=0)
open("out.html", "w").write(file_html(layout, INLINE))
